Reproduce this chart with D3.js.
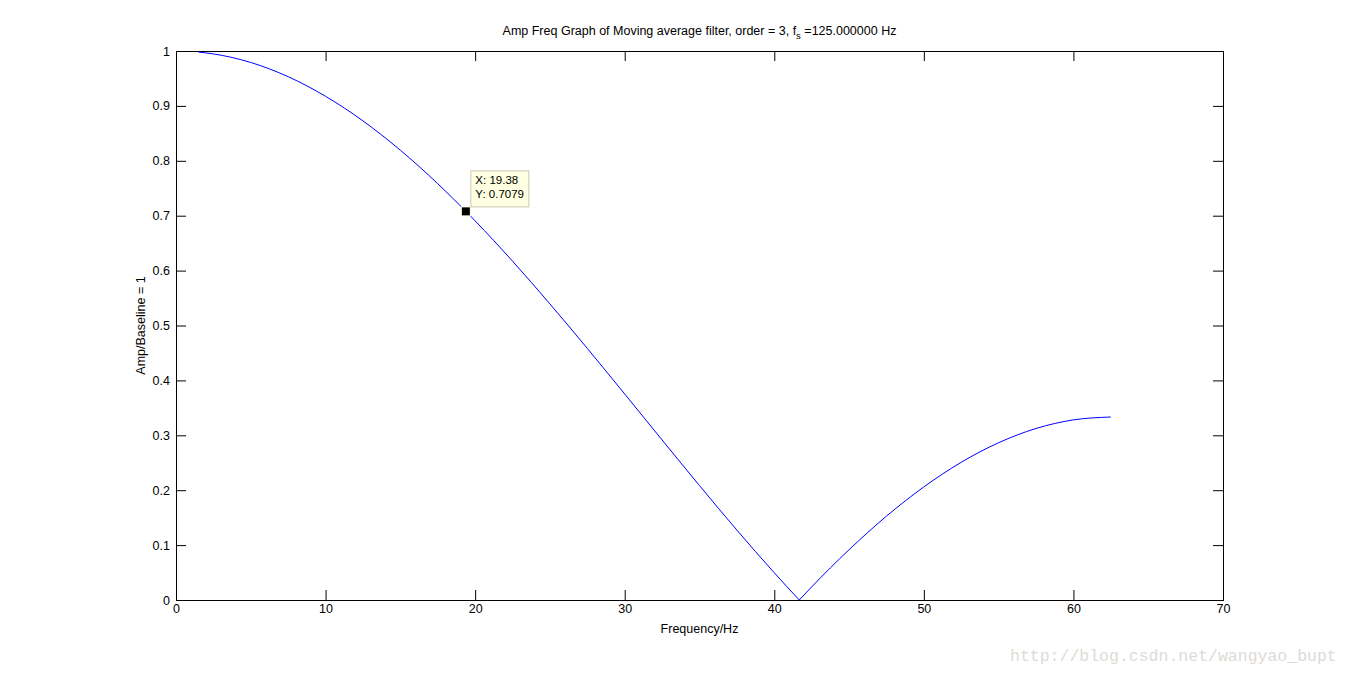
<!DOCTYPE html>
<html><head><meta charset="utf-8">
<script src="https://cdn.jsdelivr.net/npm/d3@7"></script>
<style>body{margin:0;background:#fff;}svg{display:block;font-family:"Liberation Sans",Arial,sans-serif;}</style>
</head><body>
<svg id="c" width="1351" height="674"></svg>
<script>
const freqHz = [1.5, 2.5, 5, 7.5, 10, 12.5, 15, 17.5, 19.38, 20, 22.5, 25, 27.5, 30, 32.5, 35, 37.5, 40, 41.67, 42.5, 45, 47.5, 50, 52.5, 55, 57.5, 60, 62.5];
const ampRatio = [0.9981, 0.9947, 0.9791, 0.9532, 0.9175, 0.8727, 0.8193, 0.7583, 0.7079, 0.6906, 0.6172, 0.5393, 0.4583, 0.3752, 0.2915, 0.2084, 0.1273, 0.0495, 0.0, 0.0239, 0.0916, 0.1527, 0.2060, 0.2509, 0.2865, 0.3124, 0.3281, 0.3333];
const xTicks = [0, 10, 20, 30, 40, 50, 60, 70];
const yTicks = [0, 0.1, 0.2, 0.3, 0.4, 0.5, 0.6, 0.7, 0.8, 0.9, 1];
const marker = {x: 19.38, y: 0.7079};
const titleMain = "Amp Freq Graph of Moving average filter, order = 3, f";
const titleSub = "s";
const titleEnd = " =125.000000 Hz";

const svg = d3.select("#c");
const L = 176, R = 1223, T = 51, B = 600;
const x = d3.scaleLinear().domain([0, 70]).range([L, R]);
const y = d3.scaleLinear().domain([0, 1]).range([B, T]);
const SANS = "'Liberation Sans',Arial,sans-serif";

const g = svg.append("g");
// frame
g.append("rect").attr("x", L + 0.5).attr("y", T + 0.5).attr("width", R - L).attr("height", B - T)
  .attr("fill", "none").attr("stroke", "#000").attr("stroke-width", 1);

// axes
const fmtY = d => d === 0 ? "0" : d === 1 ? "1" : d3.format(".1f")(d);
const xb = g.append("g").attr("transform", `translate(0,${B})`)
  .call(d3.axisBottom(x).tickValues(xTicks).tickSize(-10).tickPadding(4).tickFormat(d3.format("d")));
const xt = g.append("g").attr("transform", `translate(0,${T})`)
  .call(d3.axisTop(x).tickValues(xTicks).tickSize(-10).tickFormat(""));
const yl = g.append("g").attr("transform", `translate(${L},0)`)
  .call(d3.axisLeft(y).tickValues(yTicks).tickSize(-10).tickPadding(6).tickFormat(fmtY));
const yr = g.append("g").attr("transform", `translate(${R},0)`)
  .call(d3.axisRight(y).tickValues(yTicks).tickSize(-10).tickFormat(""));
[xb, xt, yl, yr].forEach(a => {
  a.select(".domain").remove();
  a.selectAll("line").attr("stroke", "#000");
  a.selectAll("text").attr("font-size", 12.5).attr("fill", "#000").attr("font-family", SANS);
});

// curve (two monotone pieces split at the null)
const pts = freqHz.map((f, i) => [f, ampRatio[i]]);
const zi = ampRatio.indexOf(0);
const line = d3.line().x(d => x(d[0])).y(d => y(d[1])).curve(d3.curveMonotoneX);
[pts.slice(0, zi + 1), pts.slice(zi)].forEach(seg => {
  g.append("path").attr("d", line(seg)).attr("fill", "none").attr("stroke", "#0000ff").attr("stroke-width", 1);
});

// data cursor
const mx = x(marker.x), my = y(marker.y);
g.append("rect").attr("x", mx - 5).attr("y", my - 5).attr("width", 10).attr("height", 10)
  .attr("fill", "#ffffe1");
g.append("rect").attr("x", mx - 4).attr("y", my - 4).attr("width", 8).attr("height", 8).attr("fill", "#000");
const bx = mx + 4.5, by = my - 41;
g.append("rect").attr("x", bx + 0.5).attr("y", by + 0.5).attr("width", 58).attr("height", 36)
  .attr("fill", "#ffffe1").attr("stroke", "#c8c8b4").attr("stroke-width", 1);
g.append("text").attr("x", bx + 5).attr("y", by + 14).attr("font-size", 11.5).text("X: " + marker.x);
g.append("text").attr("x", bx + 5).attr("y", by + 28).attr("font-size", 11.5).text("Y: " + marker.y);

// title
const tt = svg.append("text").attr("x", (L + R) / 2).attr("y", 35).attr("text-anchor", "middle").attr("font-size", 12.5);
tt.append("tspan").text(titleMain);
tt.append("tspan").attr("font-size", 9.5).attr("dy", 4).text(titleSub);
tt.append("tspan").attr("dy", -4).text(titleEnd);

// axis labels
svg.append("text").attr("x", (L + R) / 2).attr("y", 633).attr("text-anchor", "middle").attr("font-size", 12.5).text("Frequency/Hz");
svg.append("text").attr("transform", `translate(145,${(T + B) / 2}) rotate(-90)`).attr("text-anchor", "middle").attr("font-size", 12.5).text("Amp/Baseline = 1");

// watermark
svg.append("text").attr("x", 1010).attr("y", 661)
  .style("font-family", "'Liberation Mono','DejaVu Sans Mono',monospace")
  .attr("font-size", 16.5).attr("fill", "#dedbd6").text("http://blog.csdn.net/wangyao_bupt");
</script>
</body></html>
